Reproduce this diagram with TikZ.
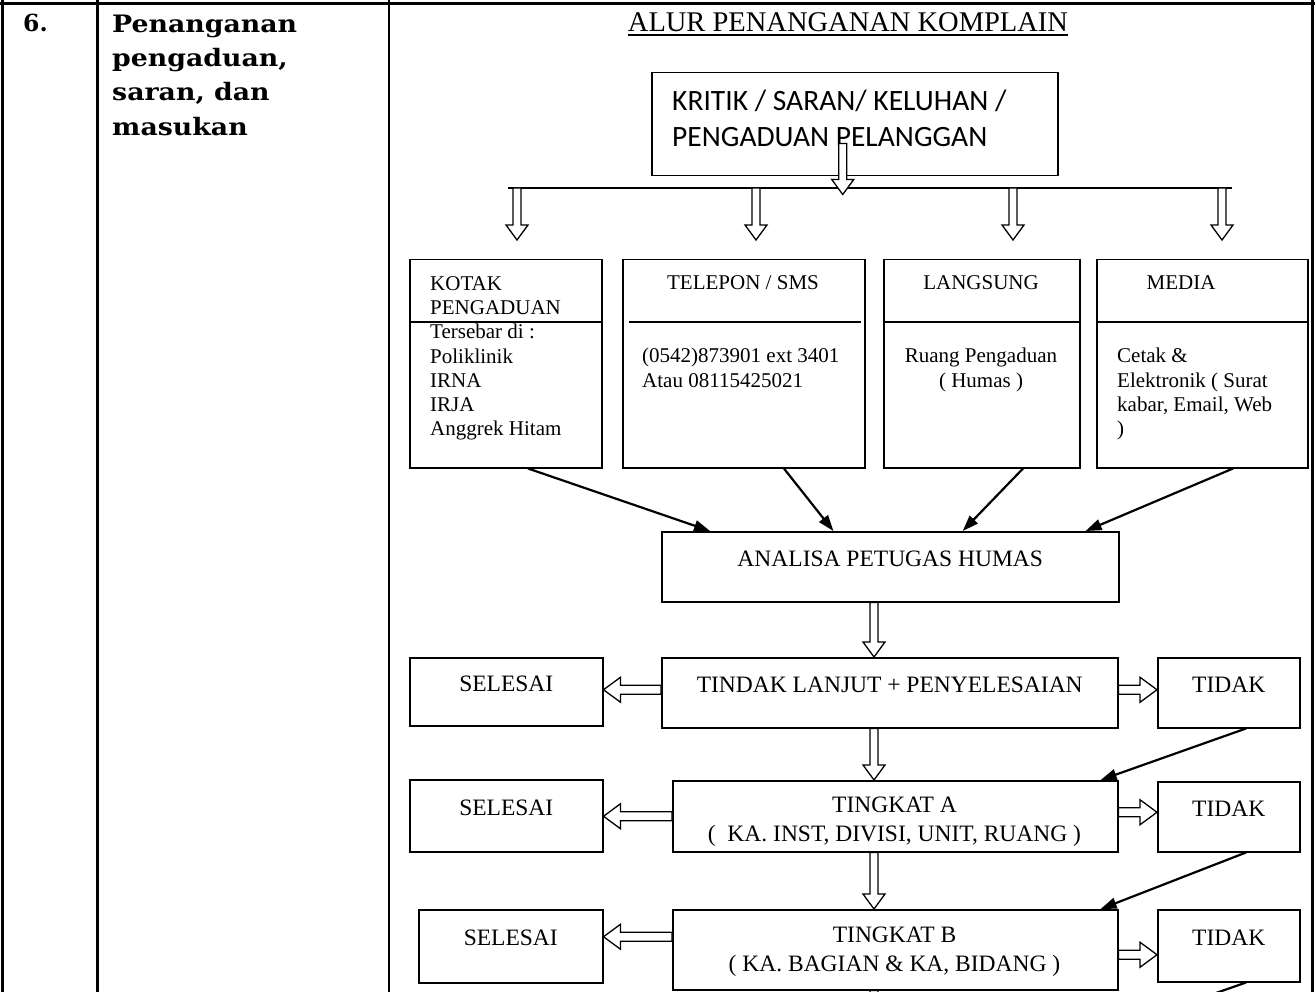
\documentclass[tikz,border=0pt]{standalone}
\usepackage{fontspec}
\setmainfont{Liberation Serif}
\newfontfamily\calibri{Carlito}
\newfontfamily\slab{DejaVu Serif}
\newfontfamily\slabwide{DejaVu Serif}[FakeStretch=1.115]
\usetikzlibrary{positioning, calc, arrows.meta}

% hollow block arrows, drawn between two points
\newcommand\hollowdown[2]{%
  \draw[hollow] let \p1=(#1), \p2=(#2), \p3=($(#2)!15pt!(#1)$) in
    (\x1-4pt,\y1) -- (\x1-4pt,\y3) -- (\x1-11pt,\y3) -- (\x1,\y2)
    -- (\x1+11pt,\y3) -- (\x1+4pt,\y3) -- (\x1+4pt,\y1) -- cycle;}
\newcommand\hollowside[2]{%
  \draw[hollow] let \p1=(#1), \p2=(#2), \p3=($(\x2,\y1)!17pt!(#1)$) in
    (\x1,\y1-4.5pt) -- (\x3,\y1-4.5pt) -- (\x3,\y1-12.5pt) -- (\x2,\y1)
    -- (\x3,\y1+12.5pt) -- (\x3,\y1+4.5pt) -- (\x1,\y1+4.5pt) -- cycle;}

\begin{document}
\begin{tikzpicture}[x=1pt, y=-1pt,
    tableline/.style={line width=2.5pt},
    box/.style={draw, line width=1.5pt, anchor=north west, inner sep=0pt},
    smalltext/.style={font=\fontsize{21}{24.3}\selectfont, inner sep=0pt},
    bigtext/.style={font=\fontsize{23.5}{29}\selectfont, inner sep=0pt},
    oneline/.style={box, bigtext, text height=16pt, text depth=17pt},
    hollow/.style={draw, fill=white, line width=1.3pt},
    feed/.style={-{Triangle[length=16pt, width=11pt]}, line width=2.2pt}]

        \useasboundingbox (0,0) rectangle (1315,992);
        \clip (0,0) rectangle (1315,992);

        % Table
        \draw[tableline] (0,3.5) -- (1315,3.5);
        \foreach \x in {2.3, 97.3, 389, 1312.3} {
          \draw[tableline] (\x,0) -- (\x,992);
        }
        \node[anchor=base west, inner sep=0pt, font=\slab\bfseries\fontsize{23.5}{34.3}\selectfont] (num) at (23,32) {6.};
        \node[anchor=north west, inner sep=0pt, align=left, font=\slabwide\bfseries\fontsize{24}{34.3}\selectfont] (topic) at (112,14.5) {Penanganan\\pengaduan,\\saran, dan\\masukan};

        % Title
        \node[anchor=base, inner sep=0pt, font=\fontsize{28.5}{34}\selectfont] (title) at (848,32) {ALUR PENANGANAN KOMPLAIN};
        \draw[line width=1.3pt] ([yshift=-3pt]title.base west) -- ([yshift=-3pt]title.base east);

        % Source
        \node[box, minimum width=406pt, minimum height=103pt] (src) at (651,72) {};
        \node[anchor=north west, inner sep=0pt, align=left, font=\calibri\fontsize{29.5}{36}\selectfont] (srctext) at (672,90) {KRITIK / SARAN/ KELUHAN /\\PENGADUAN PELANGGAN};

        \coordinate (bl) at (508,188);
        \coordinate (br) at (1232,188);
        \draw[line width=1.5pt] (bl) -- (br);
        \hollowdown{[xshift=-12pt,yshift=33pt]src.south}{[xshift=-12pt,yshift=-18pt]src.south}
        \foreach \k/\x in {1/517, 2/756, 3/1013, 4/1222} {
          \coordinate (b\k) at (\x,188);
          \coordinate (t\k) at (\x,240);
          \hollowdown{b\k}{t\k}
        }

        % Channels
        \node[box, minimum width=192pt, minimum height=208pt] (kotak) at (409,259) {};
        \node[box, minimum width=242pt, minimum height=208pt] (telepon) at (622,259) {};
        \node[box, minimum width=196pt, minimum height=208pt] (langsung) at (883,259) {};
        \node[box, minimum width=211pt, minimum height=208pt] (media) at (1096,259) {};
        \foreach \a/\b in {409/601, 629/861, 883/1079, 1096/1307} {
          \draw[line width=1.5pt] (\a,322) -- (\b,322);
        }

        \node[smalltext, anchor=north west, align=left] (kotaktext) at (430,276) {KOTAK\\PENGADUAN\\Tersebar di :\\Poliklinik\\IRNA\\IRJA\\Anggrek Hitam};
        \node[smalltext, anchor=base] (telhead) at (743,290) {TELEPON / SMS};
        \node[smalltext, anchor=north west, align=left] (telbody) at (642,348) {(0542)873901 ext 3401\\Atau 08115425021};
        \node[smalltext, anchor=base] (langhead) at (981,290) {LANGSUNG};
        \node[smalltext, anchor=north, align=center] (langbody) at (981,348) {Ruang Pengaduan\\( Humas )};
        \node[smalltext, anchor=base] (mediahead) at (1181,290) {MEDIA};
        \node[smalltext, anchor=north west, align=left] (mediabody) at (1117,348) {Cetak \&\\Elektronik ( Surat\\kabar, Email, Web\\)};

        % Analysis
        \node[oneline, minimum width=457pt, minimum height=70pt] (analisa) at (661,531) {ANALISA PETUGAS HUMAS};
        \draw[feed] ($(kotak.south west)!.615!(kotak.south east)$) -- ($(analisa.north west)!.107!(analisa.north east)$);
        \draw[feed] ($(telepon.south west)!.665!(telepon.south east)$) -- ($(analisa.north west)!.376!(analisa.north east)$);
        \draw[feed] ($(langsung.south west)!.709!(langsung.south east)$) -- ($(analisa.north west)!.658!(analisa.north east)$);
        \draw[feed] ($(media.south west)!.645!(media.south east)$) -- ($(analisa.north west)!.926!(analisa.north east)$);

        \coordinate (spine) at (874,0);

        % Follow up
        \node[oneline, minimum width=193pt, minimum height=68pt] (sel1) at (409,657) {SELESAI};
        \node[oneline, minimum width=456pt, minimum height=70pt] (tindak) at (661,657) {TINDAK LANJUT + PENYELESAIAN};
        \node[oneline, minimum width=142pt, minimum height=70pt] (tidak1) at (1157,657) {TIDAK};
        \hollowdown{analisa.south -| spine}{tindak.north -| spine}
        \hollowside{[yshift=3pt]tindak.west}{sel1.east}
        \hollowside{[yshift=3pt]tindak.east}{tidak1.west}

        % Level A
        \node[oneline, minimum width=193pt, minimum height=72pt] (sel2) at (409,779) {SELESAI};
        \node[box, minimum width=445pt, minimum height=71pt] (tka) at (672,780) {};
        \node[bigtext, anchor=north, align=center] (tkatext) at (894.5,796.5) {TINGKAT A\\( \ KA. INST, DIVISI, UNIT, RUANG )};
        \node[oneline, minimum width=142pt, minimum height=70pt] (tidak2) at (1157,781) {TIDAK};
        \hollowdown{tindak.south -| spine}{tka.north -| spine}
        \hollowside{tka.west}{sel2.east}
        \hollowside{[yshift=4pt]tka.east}{tidak2.west}
        \draw[feed] ($(tidak1.south west)!.62!(tidak1.south east)$) -- ($(tka.north west)!.96!(tka.north east)$);

        % Level B
        \node[oneline, minimum width=184pt, minimum height=73pt] (sel3) at (418,909) {SELESAI};
        \node[box, minimum width=445pt, minimum height=80pt] (tkb) at (672,909) {};
        \node[bigtext, anchor=north, align=center] (tkbtext) at (894.5,926.5) {TINGKAT B\\( KA. BAGIAN \& KA, BIDANG )};
        \node[oneline, minimum width=142pt, minimum height=72pt] (tidak3) at (1157,909) {TIDAK};
        \hollowdown{tka.south -| spine}{tkb.north -| spine}
        \hollowside{[yshift=13pt]tkb.west}{sel3.east}
        \hollowside{[yshift=-5pt]tkb.east}{tidak3.west}
        \draw[feed] ($(tidak2.south west)!.62!(tidak2.south east)$) -- ($(tkb.north west)!.96!(tkb.north east)$);

        % continues on next page
        \coordinate (nextb) at (874,1040);
        \coordinate (nextfeed) at (1099,1034);
        \hollowdown{tkb.south -| spine}{nextb}
        \draw[feed] ($(tidak3.south west)!.62!(tidak3.south east)$) -- (nextfeed);

      \end{tikzpicture}
\end{document}
